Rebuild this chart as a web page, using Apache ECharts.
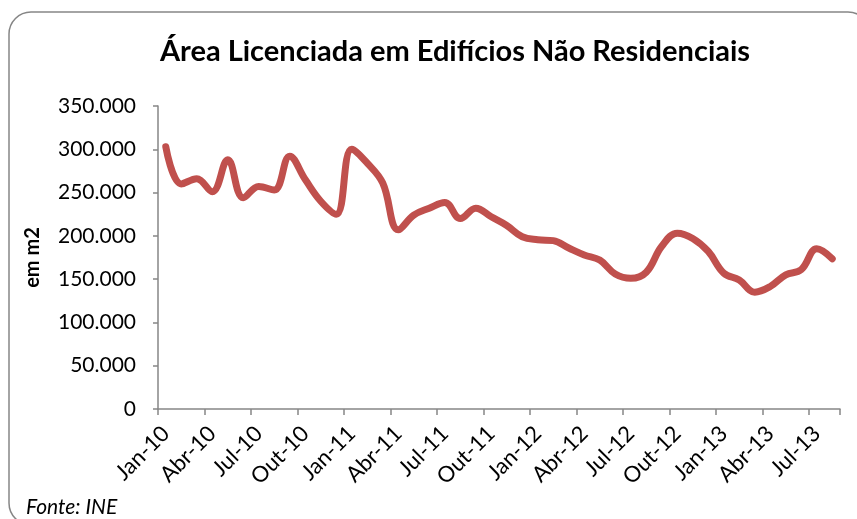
<!DOCTYPE html>
<html>
<head>
<meta charset="utf-8">
<script src="https://cdn.jsdelivr.net/npm/echarts@6/dist/echarts.min.js"></script>
<style>
html,body{margin:0;padding:0;background:#fff;}
#chart{width:857px;height:519px;}
</style>
</head>
<body>
<div id="chart"></div>
<script>
const months = ["Jan","Fev","Mar","Abr","Mai","Jun","Jul","Ago","Set","Out","Nov","Dez"];
const categories = [];
for (let y = 10; y <= 13; y++) {
  for (let m = 0; m < 12; m++) {
    if (y === 13 && m > 7) break;
    categories.push(months[m] + "-" + y);
  }
}
const values = [
  303000, 260000, 266000, 251000, 288000, 244000, 257000, 253000, 292000, 265000, 240000, 225000,
  300000, 284000, 261000, 207000, 224000, 232000, 238500, 220000, 232000, 222000, 212000, 199000,
  195500, 194500, 186000, 178000, 172000, 156000, 151000, 158000, 188000, 203000, 197000, 182000,
  157000, 149000, 135000, 141500, 155000, 161000, 185000, 173500
];
const yTicks = [0, 50000, 100000, 150000, 200000, 250000, 300000, 350000];
const titleText = "Área Licenciada em Edifícios Não Residenciais";
const yName = "em m2";
const sourceText = "Fonte: INE";

const chart = echarts.init(document.getElementById('chart'), null, {renderer: 'canvas'});
const FONT = 'Lato';
chart.setOption({
  animation: false,
  backgroundColor: '#ffffff',
  grid: {left: 158, right: 17, top: 106, bottom: 110, containLabel: false},
  graphic: [
    {type: 'rect', shape: {x: 9, y: 12, width: 861, height: 513, r: 22},
     style: {fill: 'none', stroke: '#868686', lineWidth: 1.5}, z: -1},
    {type: 'text', x: 455, y: 52,
     style: {text: titleText, font: 'bold 29px Lato', fill: '#000', textAlign: 'center', textVerticalAlign: 'middle'}},
    {type: 'text', x: 26, y: 507,
     style: {text: sourceText, font: 'italic 21px Lato', fill: '#000', textAlign: 'left', textVerticalAlign: 'middle'}}
  ],
  xAxis: {
    type: 'category',
    data: categories,
    boundaryGap: true,
    axisLine: {lineStyle: {color: '#868686', width: 1.5}},
    axisTick: {show: true, interval: 2, length: 6, lineStyle: {color: '#868686', width: 1.5}},
    axisLabel: {interval: 2, rotate: 45, margin: 21, color: '#000', fontFamily: FONT, fontSize: 22,
      formatter: v => v},
    splitLine: {show: false}
  },
  yAxis: {
    type: 'value',
    min: 0, max: 350000, interval: 50000,
    name: yName,
    nameLocation: 'middle',
    nameGap: 115,
    nameTextStyle: {fontFamily: FONT, fontWeight: 'bold', fontSize: 20, color: '#000'},
    axisLine: {show: true, lineStyle: {color: '#868686', width: 1.5}},
    axisTick: {show: true, inside: false, length: 5, lineStyle: {color: '#868686', width: 1.5}},
    axisLabel: {margin: 22, color: '#000', fontFamily: FONT, fontSize: 21,
      formatter: v => yTicks.indexOf(v) >= 0 ? (v === 0 ? '0' : (v / 1000).toFixed(0) + '.000') : ''},
    splitLine: {show: false}
  },
  series: [{
    type: 'line',
    data: values,
    smooth: 0.4,
    symbol: 'none',
    lineStyle: {color: '#C0504D', width: 7, cap: 'round', join: 'round'}
  }]
});
</script>
</body>
</html>
